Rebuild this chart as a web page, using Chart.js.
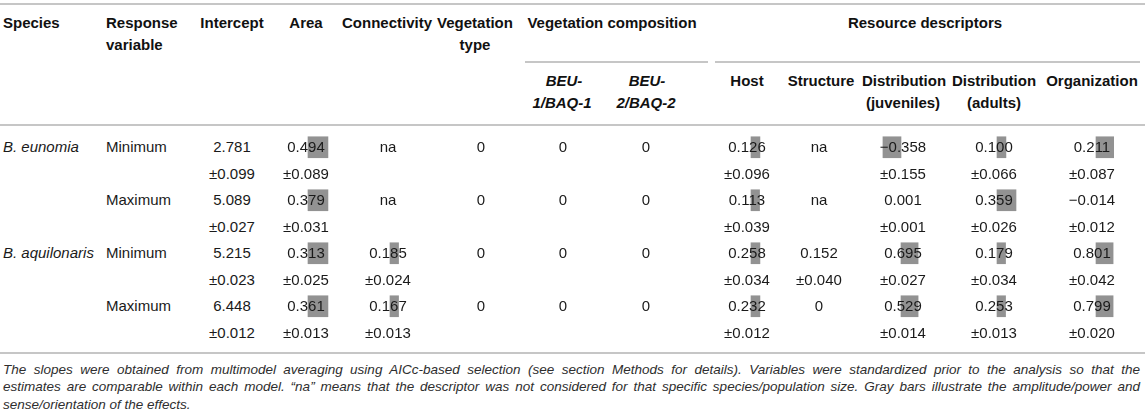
<!DOCTYPE html>
<html>
<head>
<meta charset="utf-8">
<script src="https://cdn.jsdelivr.net/npm/chart.js@4.4.1/dist/chart.umd.min.js"></script>
<style>
  html, body { margin: 0; padding: 0; background: #fff; }
  #page { position: relative; width: 1145px; height: 419px; overflow: hidden;
          font-family: "Liberation Sans", Arial, Helvetica, sans-serif; color: #1a1a1a; }
  .t { position: absolute; font-size: 15px; line-height: 20px; white-space: nowrap; z-index: 2; }
  .c { transform: translateX(-50%); }
  .b { font-weight: bold; color: #111; }
  .i { font-style: italic; }
  .rule { position: absolute; height: 2px; background: #c6c6c6; z-index: 1; }
  canvas.bars { position: absolute; z-index: 1; }
  .note { position: absolute; left: 3px; width: 1137px; font-size: 13.5px; line-height: 17px;
          font-style: italic; color: #2e2e2e; white-space: nowrap; }
  .just { text-align: justify; text-align-last: justify; }
</style>
</head>
<body>
<div id="page"></div>
<script>
// table content
const species = ['B. eunomia', '', 'B. aquilonaris', ''];
const responses = ['Minimum', 'Maximum', 'Minimum', 'Maximum'];

const intercept = [2.781, 5.089, 5.215, 6.448];
const interceptSE = [0.099, 0.027, 0.023, 0.012];
const area = [0.494, 0.379, 0.313, 0.361];
const areaSE = [0.089, 0.031, 0.025, 0.013];
const connectivity = [null, null, 0.185, 0.167];
const connectivitySE = [null, null, 0.024, 0.013];
const vegType = [0, 0, 0, 0];
const beu1 = [0, 0, 0, 0];
const beu2 = [0, 0, 0, 0];
const host = [0.126, 0.113, 0.258, 0.232];
const hostSE = [0.096, 0.039, 0.034, 0.012];
const structure = [null, null, 0.152, 0];
const structureSE = [null, null, 0.040, null];
const distJuv = [-0.358, 0.001, 0.695, 0.529];
const distJuvSE = [0.155, 0.001, 0.027, 0.014];
const distAdult = [0.100, 0.359, 0.179, 0.253];
const distAdultSE = [0.066, 0.026, 0.034, 0.013];
const organization = [0.211, -0.014, 0.801, 0.799];
const organizationSE = [0.087, 0.012, 0.042, 0.020];

// gray bars (amplitude / sense of the effect, as drawn)
const areaBar = [1.05, 1.05, 1.05, 1.05];
const connectivityBar = [null, null, 0.45, 0.45];
const hostBar = [0.47, 0.45, 0.47, 0.47];
const distJuvBar = [-0.95, null, 0.9, 0.9];
const distAdultBar = [0.47, 1.0, 0.45, 0.45];
const organizationBar = [0.93, null, 0.9, 0.9];

const noteLines = [
  'The slopes were obtained from multimodel averaging using AICc-based selection (see section Methods for details). Variables were standardized prior to the analysis so that the',
  'estimates are comparable within each model. \u201cna\u201d means that the descriptor was not considered for that specific species/population size. Gray bars illustrate the amplitude/power and',
  'sense/orientation of the effects.'
];

const page = document.getElementById('page');

function put(text, x, y, cls) {
  const d = document.createElement('div');
  d.className = 't ' + (cls || '');
  d.textContent = text;
  d.style.left = x + 'px';
  d.style.top = (y - 10) + 'px';
  page.appendChild(d);
  return d;
}
function rule(x1, x2, y) {
  const d = document.createElement('div');
  d.className = 'rule';
  d.style.left = x1 + 'px';
  d.style.width = (x2 - x1) + 'px';
  d.style.top = (y - 1) + 'px';
  page.appendChild(d);
}
function fmt(v) {
  if (v === 0) return '0';
  return (v < 0 ? '\u2212' : '') + Math.abs(v).toFixed(3);
}

// layout
const line1 = 147, linePitch = 26.5;
const lineY = i => line1 + i * linePitch;

rule(0, 1145, 4);
rule(525, 708, 62);
rule(715, 1140, 62);
rule(0, 1145, 125);
rule(0, 1145, 353);

put('Species', 3, 23, 'b');
put('Response', 106, 23, 'b');
put('variable', 106, 45, 'b');
put('Intercept', 232, 23, 'b c');
put('Area', 306, 23, 'b c');
put('Connectivity', 387, 23, 'b c');
put('Vegetation', 475, 23, 'b c');
put('type', 475, 45, 'b c');
put('Vegetation composition', 612, 23, 'b c');
put('Resource descriptors', 925, 23, 'b c');
put('BEU-', 564, 81, 'b i c');
put('1/BAQ-1', 562, 103, 'b i c');
put('BEU-', 647, 81, 'b i c');
put('2/BAQ-2', 646, 103, 'b i c');
put('Host', 747, 81, 'b c');
put('Structure', 821, 81, 'b c');
put('Distribution', 904, 81, 'b c');
put('(juveniles)', 903, 103, 'b c');
put('Distribution', 994, 81, 'b c');
put('(adults)', 994, 103, 'b c');
put('Organization', 1092, 81, 'b c');

const columns = [
  { values: intercept, se: interceptSE, x: 232 },
  { values: area, se: areaSE, x: 306, bars: areaBar, zero: 307.5 },
  { values: connectivity, se: connectivitySE, x: 388, bars: connectivityBar, zero: 390 },
  { values: vegType, se: null, x: 481 },
  { values: beu1, se: null, x: 563 },
  { values: beu2, se: null, x: 646 },
  { values: host, se: hostSE, x: 747, bars: hostBar, zero: 751 },
  { values: structure, se: structureSE, x: 819 },
  { values: distJuv, se: distJuvSE, x: 903, bars: distJuvBar, zero: 901 },
  { values: distAdult, se: distAdultSE, x: 994, bars: distAdultBar, zero: 997 },
  { values: organization, se: organizationSE, x: 1092, bars: organizationBar, zero: 1096 }
];

responses.forEach((resp, r) => {
  if (species[r]) put(species[r], 3, lineY(2 * r), 'i');
  put(resp, 106, lineY(2 * r));
  columns.forEach(col => {
    const v = col.values[r];
    put(v === null ? 'na' : fmt(v), col.x, lineY(2 * r), 'c');
    if (col.se && col.se[r] !== null) put('\u00b1' + col.se[r].toFixed(3), col.x, lineY(2 * r + 1), 'c');
  });
});

// one line per text row: estimate line, then ± line
const lineLabels = [];
responses.forEach((resp, r) => {
  const name = (species[r] || species[r - 1]) + ' ' + resp;
  lineLabels.push(name, name + ' \u00b1');
});

const PX_PER_UNIT = 19, HALF_W = 25;
columns.filter(c => c.bars).forEach(col => {
  const cv = document.createElement('canvas');
  cv.className = 'bars';
  cv.width = HALF_W * 2;
  cv.height = Math.round(linePitch * 8);
  cv.style.left = (col.zero - HALF_W) + 'px';
  cv.style.top = (line1 + 0.5 - linePitch / 2) + 'px';
  page.appendChild(cv);
  const lineData = [];
  col.bars.forEach(b => lineData.push(b, null));
  new Chart(cv, {
    type: 'bar',
    data: {
      labels: lineLabels,
      datasets: [{ data: lineData, backgroundColor: '#929292', borderWidth: 0, barThickness: 21 }]
    },
    options: {
      indexAxis: 'y',
      responsive: false,
      animation: false,
      events: [],
      layout: { padding: 0 },
      plugins: { legend: { display: false }, tooltip: { enabled: false } },
      scales: {
        x: { type: 'linear', display: false, min: -HALF_W / PX_PER_UNIT, max: HALF_W / PX_PER_UNIT },
        y: { type: 'category', display: false, offset: true, grid: { display: false } }
      }
    }
  });
});

noteLines.forEach((txt, i) => {
  const d = document.createElement('div');
  d.className = 'note' + (i < noteLines.length - 1 ? ' just' : '');
  d.textContent = txt;
  d.style.top = (369 + i * 17.5 - 8.5) + 'px';
  page.appendChild(d);
});
</script>
</body>
</html>
